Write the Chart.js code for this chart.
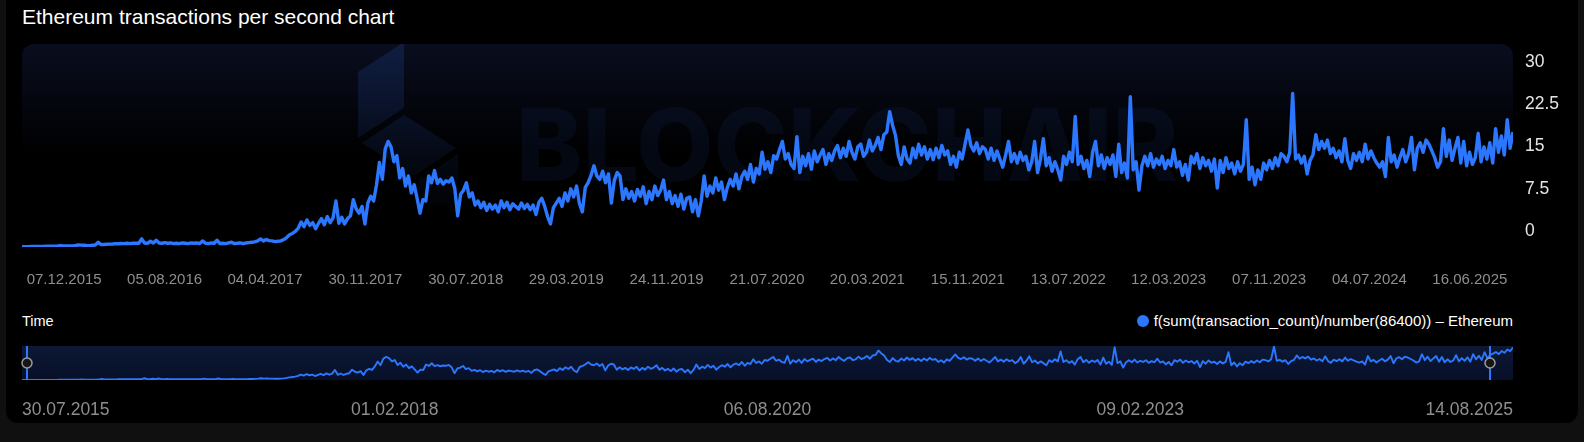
<!DOCTYPE html>
<html>
<head>
<meta charset="utf-8">
<script src="https://cdn.jsdelivr.net/npm/chart.js@4.4.1/dist/chart.umd.min.js"></script>
<style>
  html, body { margin: 0; padding: 0; background: #101010; width: 1584px; height: 442px; overflow: hidden; }
  body { position: relative; font-family: "Liberation Sans", Arial, sans-serif; }
  .card { position: absolute; left: 6px; top: -12px; width: 1572px; height: 435px; background: #000; border-radius: 12px; }
  .title { position: absolute; left: 22px; top: 6px; font-size: 21px; line-height: 21px; color: #fff; }
  .main { position: absolute; left: 0; top: 0; width: 1584px; height: 300px; }
  .nav { position: absolute; left: 0; top: 330px; width: 1584px; height: 100px; }
  .time { position: absolute; left: 22px; top: 313px; font-size: 14.5px; color: #fff; }
  .legend { position: absolute; right: 71px; top: 312px; font-size: 15px; color: #fff; display: flex; align-items: center; }
  .legend .dot { width: 12px; height: 12px; border-radius: 50%; background: #2b77ff; margin-right: 5px; }
</style>
</head>
<body>
<div class="card"></div>
<div class="title">Ethereum transactions per second chart</div>
<div class="main"><canvas id="mainChart"></canvas></div>
<div class="time">Time</div>
<div class="legend"><span class="dot"></span>f(sum(transaction_count)/number(86400)) – Ethereum</div>
<div class="nav"><canvas id="navChart"></canvas></div>

<script>
// weekly values, transactions per second
const startDate = "30.07.2015";
const stepDays = 7;
const tps = [
  0.04, 0.05,
  0.05, 0.06, 0.06, 0.07, 0.08, 0.08, 0.09, 0.09, 0.1, 0.1,
  0.11, 0.12, 0.15, 0.2, 0.15, 0.14, 0.15, 0.17, 0.18, 0.3,
  0.28, 0.25, 0.22, 0.2, 0.25, 0.3, 0.7, 0.35, 0.38,
  0.4, 0.42, 0.45, 0.5, 0.48, 0.52, 0.5, 0.55, 0.5, 0.55,
  0.58, 0.55, 1.2, 0.6, 0.55, 0.85, 0.6, 1.0, 0.6, 0.55,
  0.65, 0.55, 0.6, 0.5, 0.55, 0.5, 0.6, 0.55, 0.5, 0.6,
  0.55, 0.6, 0.5, 0.9, 0.55, 0.5, 0.6, 0.55, 1.0, 0.5,
  0.55, 0.5, 0.6, 0.7, 0.5, 0.55, 0.6, 0.5, 0.6,
  0.65, 0.7, 0.75, 0.9, 1.2, 0.9, 1.1, 0.95, 0.9, 0.8,
  0.85, 0.9, 1.1, 1.4, 1.8, 2.0, 2.3, 2.8, 3.7, 3.0,
  4.0, 3.2, 3.6, 2.7, 3.5,
  4.2, 3.3, 4.5, 3.6, 4.3, 6.8, 3.5, 4.4, 3.4, 4.2,
  4.6, 7.0, 5.6, 5.0, 6.0, 3.4, 6.5, 7.5, 6.8, 9.2,
  12.5, 10.0, 14.5, 15.6, 14.8, 12.6, 13.5, 10.2, 11.6,
  9.0, 10.5, 8.0, 9.2, 7.2, 5.0, 7.0, 6.8, 10.5, 9.5,
  11.3, 9.4, 10.0, 9.3, 9.8, 9.6, 10.2, 8.6, 4.6, 7.8,
  8.4, 9.5, 7.4, 8.0, 6.2, 6.8, 5.8, 6.6, 5.4, 6.3,
  5.6, 6.2, 5.2, 6.8, 5.8, 6.6, 5.5, 6.4, 6.0, 5.6,
  6.5, 5.7, 6.3, 5.5, 6.2, 4.8, 6.6, 7.2, 6.0,
  4.5, 3.4, 5.8, 6.5, 7.2, 6.0, 8.0, 6.8, 8.6, 7.4,
  9.0, 6.4, 5.2, 8.8, 9.5, 10.6, 12.0, 10.5, 10.0, 11.2,
  9.5, 10.8, 6.5, 9.8, 11.0,
  10.5, 7.0, 8.6, 7.2, 8.2, 6.8, 8.5, 7.5, 8.9, 6.4,
  8.2, 7.0, 9.0, 7.6, 8.4, 9.9, 7.0, 8.2, 6.4, 7.6,
  6.0, 7.8, 5.6, 7.2, 7.4, 5.2, 7.0, 4.6, 6.8,
  10.5, 7.5, 9.0, 8.0, 10.2, 8.4, 9.6, 7.0, 8.8, 10.0,
  9.0, 10.8, 8.6, 10.4, 11.2, 10.0, 12.2, 9.6, 11.6, 10.8,
  14.0, 11.5, 12.6, 11.0, 13.5, 13.0, 14.4, 15.6, 13.0, 13.8,
  12.2, 11.6, 16.3, 11.0, 13.4, 12.0, 13.8, 11.5, 14.2, 12.6,
  13.6, 14.4, 12.2, 13.8, 12.8, 14.2, 15.0, 13.2, 14.6,
  13.4, 15.6, 14.0, 13.0, 14.8, 15.2, 13.4, 14.0, 15.8, 14.2,
  15.0, 16.2, 14.4, 16.6, 17.0, 20.0, 18.0, 16.5, 13.5, 12.2,
  14.8, 13.0, 12.4, 14.6, 13.2, 15.2, 13.6,
  14.8, 13.0, 14.4,
  12.9, 14.6, 13.2, 15.0, 13.6, 14.2, 12.2, 13.4, 11.8, 14.0,
  13.0, 15.2, 17.3, 15.0, 14.2, 15.4, 13.8, 14.8, 14.4,
  13.0, 14.6, 12.8, 14.2, 13.0, 11.8, 13.6, 15.6, 12.6, 13.8,
  12.4, 14.0, 12.8, 13.4, 11.4, 12.6, 15.6, 11.0, 13.0, 16.0,
  12.0, 13.2, 11.2, 12.6, 11.4, 9.9, 13.4, 12.2, 14.0, 12.6,
  19.3, 12.2, 13.4, 11.6, 12.8, 10.4, 14.0, 15.6, 12.0, 13.6,
  11.6, 13.2, 12.2, 13.6, 10.4, 15.2, 11.0, 12.4, 10.2,
  22.2, 11.4, 12.6, 8.4, 12.0, 13.4, 12.0, 13.8, 11.8, 13.0,
  12.2, 13.4, 11.6, 12.8, 12.0, 14.4, 11.8, 12.6, 10.6, 12.2,
  9.9, 13.4, 12.4, 13.8, 11.6, 13.2, 12.0, 12.8, 11.2, 13.0,
  8.7,
  12.8, 11.0, 13.2, 11.6,
  12.4, 10.8, 12.6, 11.2, 12.2, 18.8, 10.0, 11.8, 9.2, 11.4,
  10.0, 12.4, 11.4, 12.8, 11.6, 13.2, 12.0, 13.8, 13.4,
  12.6, 14.0, 22.7, 13.0, 13.6, 12.4, 13.4, 10.8, 12.8, 13.6,
  16.6, 14.4, 15.6, 14.6, 15.8, 13.8, 14.6, 13.2, 14.2, 12.6,
  16.0, 12.8, 11.6, 13.8, 12.8, 14.0, 12.6, 15.2, 13.0, 14.2,
  13.2, 12.4, 11.8, 12.6, 10.4, 16.2, 12.6, 13.6, 11.8, 13.2,
  14.4, 12.6, 13.8, 16.2, 11.4, 14.6, 15.4, 14.0, 15.8,
  15.2, 14.2, 13.2, 11.8, 12.6, 17.5, 13.4, 15.8, 12.8, 14.6,
  16.2, 12.4, 15.6, 12.0, 14.0, 12.2, 13.2, 16.8, 12.6, 14.8,
  13.0, 15.4, 12.4, 17.5, 14.0, 16.4, 13.6, 18.8, 14.6, 17.0,
  17.8, 18.9, 17.5, 19.6, 18.4, 20.6, 19.5, 22.0
];

const xTickLabels = ["07.12.2015", "05.08.2016", "04.04.2017", "30.11.2017", "30.07.2018",
  "29.03.2019", "24.11.2019", "21.07.2020", "20.03.2021", "15.11.2021", "13.07.2022",
  "12.03.2023", "07.11.2023", "04.07.2024", "16.06.2025"];
const yTickLabels = [0, 7.5, 15, 22.5, 30];
const navTickLabels = ["30.07.2015", "01.02.2018", "06.08.2020", "09.02.2023", "14.08.2025"];
const viewStart = "11.08.2015";
const viewEnd = "19.06.2025";

const LINE = "#2b77ff";
const FONT = '"Liberation Sans", Arial, sans-serif';

const toUTC = (s) => {
  const [d, m, y] = s.split(".").map(Number);
  return Date.UTC(y, m - 1, d);
};
const dayOf = (s) => Math.round((toUTC(s) - toUTC(startDate)) / 86400000);

const points = tps.map((v, i) => ({ x: i * stepDays, y: v }));

const plotBackdrop = {
  id: "plotBackdrop",
  beforeDraw(chart) {
    const { ctx, chartArea: a } = chart;
    const g = ctx.createLinearGradient(0, a.top, 0, a.bottom);
    g.addColorStop(0, "#090d1e");
    g.addColorStop(0.55, "#000000");
    ctx.save();
    ctx.fillStyle = g;
    ctx.beginPath();
    ctx.roundRect(a.left, a.top, a.right - a.left, a.bottom - a.top, 12);
    ctx.fill();
    ctx.restore();
  },
  beforeDatasetsDraw(chart) {
    const { ctx, chartArea: a } = chart;
    ctx.save();
    ctx.beginPath();
    ctx.rect(a.left, a.top, a.right - a.left, a.bottom - a.top);
    ctx.clip();
    // faint blockchair logo + wordmark
    const g = ctx.createLinearGradient(0, a.top, 0, 205);
    g.addColorStop(0, "rgba(22,45,100,0.5)");
    g.addColorStop(1, "rgba(22,45,100,0.06)");
    ctx.fillStyle = g;
    const faces = [
      [[358, 72], [404, 42], [404, 108], [358, 138]],
      [[362, 143], [404, 115], [456, 148], [414, 176]],
      [[418, 181], [458, 154], [458, 205], [418, 205]]
    ];
    faces.forEach((f) => {
      ctx.beginPath();
      f.forEach(([x, y], i) => (i ? ctx.lineTo(x, y) : ctx.moveTo(x, y)));
      ctx.closePath();
      ctx.fill();
    });
    ctx.fillStyle = "rgba(22,45,100,0.18)";
    ctx.font = "800 100px Inter";
    ctx.textBaseline = "alphabetic";
    ctx.fillText("BLOCKCHAIR", 516, 181);
    ctx.restore();
  }
};

new Chart(document.getElementById("mainChart"), {
  type: "line",
  data: {
    datasets: [{
      data: points,
      xAxisID: "x",
      yAxisID: "y",
      borderColor: LINE,
      borderWidth: 3.4,
      borderJoinStyle: "round",
      pointRadius: 0,
      tension: 0
    }]
  },
  options: {
    animation: false,
    responsive: true,
    maintainAspectRatio: false,
    layout: { padding: { left: 22, top: 44, right: 0, bottom: 0 } },
    plugins: { legend: { display: false }, tooltip: { enabled: false } },
    scales: {
      x: { type: "linear", min: dayOf(viewStart), max: dayOf(viewEnd), display: false },
      y: { type: "linear", min: 0, max: 30, display: false },
      xl: {
        type: "linear",
        position: "bottom",
        min: -0.42,
        max: 14.43,
        grid: { display: false, drawTicks: false },
        border: { display: false },
        afterBuildTicks: (axis) => { axis.ticks = xTickLabels.map((_, i) => ({ value: i })); },
        afterFit: (axis) => { axis.height = 53; },
        ticks: {
          autoSkip: false,
          maxRotation: 0,
          padding: 24,
          color: "#8e8e8e",
          font: { family: FONT, size: 15 },
          callback: (v, i) => xTickLabels[i]
        }
      },
      yl: {
        type: "linear",
        position: "right",
        min: -2.84,
        max: 33.2,
        grid: { display: false, drawTicks: false },
        border: { display: false },
        afterBuildTicks: (axis) => { axis.ticks = yTickLabels.map((v) => ({ value: v })); },
        afterFit: (axis) => { axis.width = 71; },
        ticks: {
          padding: 12,
          color: "#e4e4e4",
          font: { family: FONT, size: 17.5 },
          callback: (v) => String(v)
        }
      }
    }
  },
  plugins: [plotBackdrop]
});

const navigatorParts = {
  id: "navigatorParts",
  beforeDatasetsDraw(chart) {
    const { ctx, chartArea: a } = chart;
    const g = ctx.createLinearGradient(0, a.top, 0, a.bottom);
    g.addColorStop(0, "#0c1835");
    g.addColorStop(1, "#081028");
    ctx.save();
    ctx.fillStyle = g;
    ctx.fillRect(a.left, a.top, a.right - a.left, a.bottom - a.top);
    ctx.restore();
  },
  afterDatasetsDraw(chart) {
    const { ctx, chartArea: a, scales } = chart;
    const mid = (a.top + a.bottom) / 2;
    ctx.save();
    [viewStart, viewEnd].forEach((d) => {
      const x = Math.round(scales.x.getPixelForValue(dayOf(d)));
      ctx.strokeStyle = LINE;
      ctx.lineWidth = 2;
      ctx.beginPath();
      ctx.moveTo(x, a.top);
      ctx.lineTo(x, a.bottom);
      ctx.stroke();
      ctx.beginPath();
      ctx.arc(x, mid, 5, 0, Math.PI * 2);
      ctx.fillStyle = "#161616";
      ctx.fill();
      ctx.lineWidth = 1.5;
      ctx.strokeStyle = "#9a9a9a";
      ctx.stroke();
    });
    ctx.restore();
  }
};

new Chart(document.getElementById("navChart"), {
  type: "line",
  data: {
    datasets: [{
      data: points,
      borderColor: LINE,
      borderWidth: 1.9,
      borderJoinStyle: "round",
      pointRadius: 0,
      tension: 0
    }]
  },
  options: {
    animation: false,
    responsive: true,
    maintainAspectRatio: false,
    layout: { padding: { left: 22, top: 16, right: 71, bottom: 0 } },
    plugins: { legend: { display: false }, tooltip: { enabled: false } },
    scales: {
      x: {
        type: "linear",
        min: 0,
        max: dayOf(navTickLabels[navTickLabels.length - 1]),
        grid: { display: false, drawTicks: false },
        border: { display: false },
        afterBuildTicks: (axis) => { axis.ticks = navTickLabels.map((s) => ({ value: dayOf(s) })); },
        afterFit: (axis) => { axis.height = 50; },
        ticks: {
          align: "inner",
          autoSkip: false,
          maxRotation: 0,
          padding: 20,
          color: "#8e8e8e",
          font: { family: FONT, size: 17.5 },
          callback: (v, i) => navTickLabels[i]
        }
      },
      y: { type: "linear", min: 0, max: 23, display: false }
    }
  },
  plugins: [navigatorParts]
});
</script>
</body>
</html>
